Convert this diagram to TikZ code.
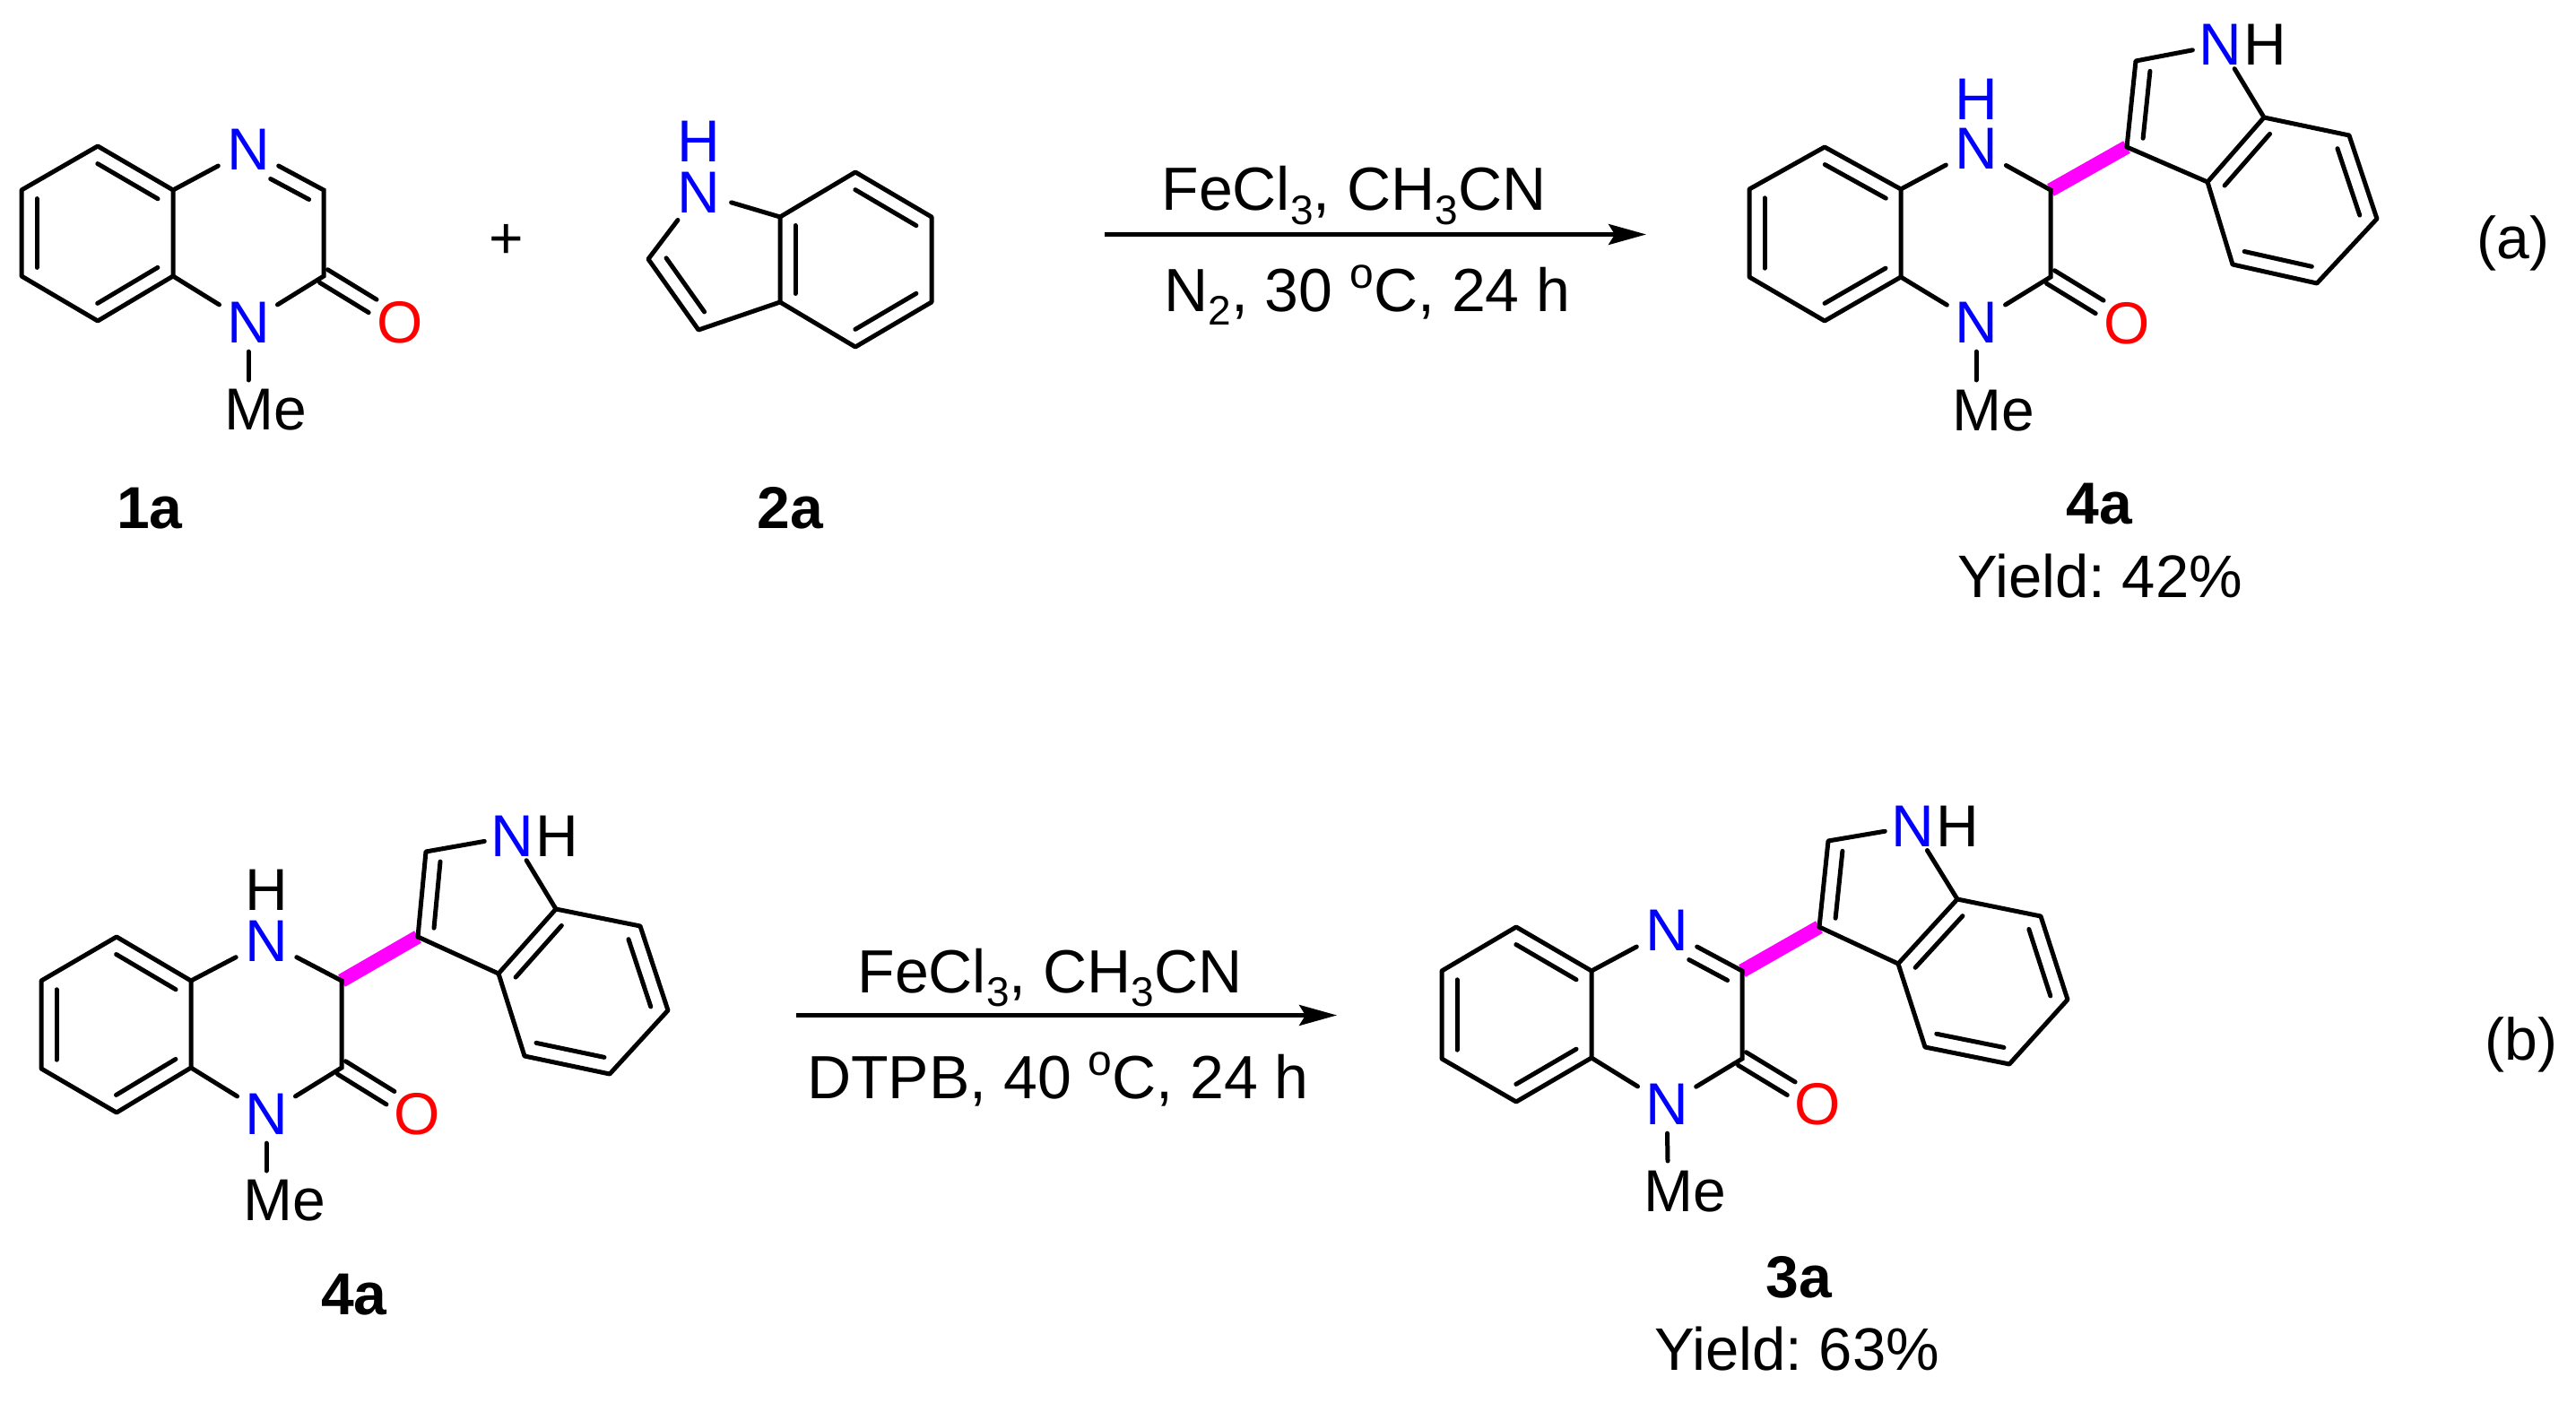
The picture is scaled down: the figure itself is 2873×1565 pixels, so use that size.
\documentclass[tikz,border=0pt]{standalone}
\usepackage{fontspec}
\setmainfont{Liberation Sans}
\usetikzlibrary{calc,arrows.meta}
\AtBeginDocument{\frenchspacing}
\definecolor{nblue}{RGB}{0,0,255}
\definecolor{ored}{RGB}{255,0,0}
\definecolor{hilite}{RGB}{255,0,255}
\newcommand{\lowidx}[1]{\raisebox{-0.23em}{\fontsize{46}{50}\selectfont #1}}
\newcommand{\upo}{\raisebox{0.37em}{\fontsize{48}{50}\selectfont o}}
% inner stroke of a double bond
\newcommand{\dbl}[5]{\draw[bond] ($(#1)!#4!(#2)!#3!90:(#2)$) -- ($(#1)!#5!(#2)!#3!90:(#2)$);}
% carbonyl pair
\newcommand{\carbonyl}[2]{%
  \draw[bond] ($(#1)!0pt!(#2)!8.5pt!90:(#2)$) -- ($(#1)!64pt!(#2)!8.5pt!90:(#2)$);
  \draw[bond] ($(#1)!0pt!(#2)!-8.5pt!90:(#2)$) -- ($(#1)!64pt!(#2)!-8.5pt!90:(#2)$);}
% benzo ring of the quinoxaline core, ring bonds
\newcommand{\benzo}[1]{%
  \draw[bond,line join=round] (#1rt)--(#1top)--(#1lt)--(#1lb)--(#1bot)--(#1rb)--cycle;
  \dbl{#1top}{#1rt}{-17pt}{.1}{.9}
  \dbl{#1rb}{#1bot}{-17pt}{.1}{.9}
  \dbl{#1lb}{#1lt}{-17pt}{.1}{.9}
  \draw[bond] (#1rt)--(#1na);
  \draw[bond] (#1rb)--(#1nb);
  \draw[bond] (#1na)--(#1c3)--(#1c2)--(#1nb);
  \carbonyl{#1c2}{#1o}
  \draw[bond,shorten <=-6pt] (#1nb)--(#1mt);
}
% indole substituent
\newcommand{\indolyl}[1]{%
  \draw[mbond] (#1c3)--(#1ic3);
  \draw[bond,line join=round] (#1ia)--(#1i7)--(#1i6)--(#1i5)--(#1i4)--(#1ib)--cycle;
  \draw[bond,line join=round,shorten >=-7pt] (#1ic3)--(#1ic2)--(#1in);
  \draw[bond,shorten <=-7pt] (#1in)--(#1ia);
  \draw[bond] (#1ic3)--(#1ib);
  \dbl{#1i7}{#1i6}{-17pt}{.1}{.9}
  \dbl{#1i5}{#1i4}{-17pt}{.1}{.9}
  \dbl{#1ib}{#1ia}{-17pt}{.1}{.9}
  \dbl{#1ic2}{#1ic3}{17pt}{.1}{.88}
}
\tikzset{
  x=1pt,y=-1pt,
  bond/.style={line width=5pt,line cap=round,black},
  mbond/.style={line width=15.5pt,hilite},
  atom/.style={circle,inner sep=0pt,minimum size=76pt,font=\fontsize{66}{70}\selectfont},
  nitro/.style={atom,text=nblue},
  oxy/.style={atom,text=ored},
  txt/.style={inner sep=0pt,font=\fontsize{66}{70}\selectfont},
  hblue/.style={txt,text=nblue},
  lab/.style={inner sep=0pt,anchor=base,font=\fontsize{66}{70}\selectfont\bfseries},
  yld/.style={inner sep=0pt,anchor=base,font=\fontsize{67}{70}\selectfont},
  cond/.style={inner sep=0pt,anchor=base,font=\fontsize{68}{70}\selectfont},
  rxn/.style={line width=4.4pt,-{Stealth[length=42pt,width=23pt,inset=7pt]}},
}
\begin{document}
\begin{tikzpicture}
\useasboundingbox (0,0) rectangle (2873,1565);
% ---------- 1a
\coordinate (atop) at (109,163); \coordinate (alt) at (24,212); \coordinate (alb) at (24,308);
\coordinate (abot) at (109,358); \coordinate (arb) at (193,308); \coordinate (art) at (193,212);
\coordinate (ac3) at (361,212); \coordinate (ac2) at (361,308);
\node[nitro] (ana) at (277,167) {N};
\node[nitro] (anb) at (277,360) {N};
\node[oxy] (ao) at (446,360) {O};
\coordinate (amt) at (277,424);
\node[txt] (ame) at (296,457) {Me};
\benzo{a}
\dbl{ana}{ac3}{-17pt}{.39}{.9}
\node[lab] (l1a) at (167,589) {1a};
\node[txt] (plus) at (565,269) {+};
% ---------- 2a
\node[nitro] (bn) at (779,215) {N};
\node[hblue] (bh) at (779,158) {H};
\coordinate (b7a) at (870,242); \coordinate (b3a) at (870,337); \coordinate (b7) at (954,192);
\coordinate (b6) at (1039,242); \coordinate (b5) at (1039,337); \coordinate (b4) at (954,387);
\coordinate (b3) at (779,368); \coordinate (b2) at (723,289);
\draw[bond,line join=round] (b7a)--(b7)--(b6)--(b5)--(b4)--(b3a)--cycle;
\draw[bond,line join=round] (bn)--(b2)--(b3)--(b3a);
\draw[bond] (bn)--(b7a);
\dbl{b7}{b6}{-17pt}{.1}{.9}
\dbl{b5}{b4}{-17pt}{.1}{.9}
\dbl{b3a}{b7a}{-17pt}{.1}{.9}
\dbl{b2}{b3}{17pt}{.11}{.87}
\node[lab] (l2a) at (881,589) {2a};
% ---------- arrow a
\coordinate (raS) at (1232,261.5); \coordinate (raE) at (1836,261.5);
\draw[rxn] (raS)--(raE);
\node[cond] (ra1) at (1510,235) {FeCl\lowidx{3}, CH\lowidx{3}CN};
\node[cond] (ra2) at (1525,347) {N\lowidx{2}, 30 \upo C, 24 h};
% ---------- 4a top
\coordinate (ctop) at (2035,164); \coordinate (clt) at (1951,211); \coordinate (clb) at (1951,309);
\coordinate (cbot) at (2035,358); \coordinate (crb) at (2120,309); \coordinate (crt) at (2120,211);
\coordinate (cc3) at (2287,212); \coordinate (cc2) at (2287,309);
\node[nitro] (cna) at (2204,166) {N};
\node[hblue] (chh) at (2204,111) {H};
\node[nitro] (cnb) at (2204,360) {N};
\node[oxy] (co) at (2372,361) {O};
\coordinate (cmt) at (2204,424);
\node[txt] (cme) at (2223,458) {Me};
\coordinate (cic3) at (2372,164); \coordinate (cic2) at (2382,68);
\node[nitro] (cin) at (2476,50) {N};
\node[txt] (cih) at (2526,50) {H};
\coordinate (cia) at (2525,131); \coordinate (cib) at (2462,203); \coordinate (ci7) at (2620,151);
\coordinate (ci6) at (2651,244); \coordinate (ci5) at (2584,316); \coordinate (ci4) at (2490,295);
\indolyl{c}
\benzo{c}
\node[lab] (l4a) at (2341,584) {4a};
\node[yld] (y4a) at (2342,666) {Yield: 42\%};
\node[txt] (ta) at (2803,271) {(a)};
% ---------- 4a bottom
\coordinate (dtop) at (130,1045); \coordinate (dlt) at (46,1094); \coordinate (dlb) at (46,1192);
\coordinate (dbot) at (130,1241); \coordinate (drb) at (213,1191); \coordinate (drt) at (213,1094);
\coordinate (dc3) at (381,1094); \coordinate (dc2) at (381,1191);
\node[nitro] (dna) at (297,1050) {N};
\node[txt] (dhh) at (297,993) {H};
\node[nitro] (dnb) at (297,1243) {N};
\node[oxy] (do) at (465,1243) {O};
\coordinate (dmt) at (297,1306);
\node[txt] (dme) at (317,1339) {Me};
\coordinate (dic3) at (466,1045); \coordinate (dic2) at (475,950);
\node[nitro] (din) at (571,933) {N};
\node[txt] (dih) at (621,933) {H};
\coordinate (dia) at (620,1014); \coordinate (dib) at (556,1086); \coordinate (di7) at (714,1033);
\coordinate (di6) at (745,1127); \coordinate (di5) at (680,1198); \coordinate (di4) at (585,1178);
\indolyl{d}
\benzo{d}
\node[lab] (l4b) at (395,1466) {4a};
% ---------- arrow b
\coordinate (rbS) at (888,1132.5); \coordinate (rbE) at (1491,1132.5);
\draw[rxn] (rbS)--(rbE);
\node[cond] (rb1) at (1171,1107) {FeCl\lowidx{3}, CH\lowidx{3}CN};
\node[cond] (rb2) at (1180,1225) {DTPB, 40 \upo C, 24 h};
\node[txt] (tb) at (2812,1165) {(b)};
% ---------- 3a
\coordinate (etop) at (1691,1034); \coordinate (elt) at (1608,1083); \coordinate (elb) at (1608,1181);
\coordinate (ebot) at (1691,1229); \coordinate (erb) at (1775,1180); \coordinate (ert) at (1775,1083);
\coordinate (ec3) at (1943,1083); \coordinate (ec2) at (1943,1181);
\node[nitro] (ena) at (1859,1038) {N};
\node[nitro] (enb) at (1859,1232) {N};
\node[oxy] (eo) at (2027,1232) {O};
\coordinate (emt) at (1860,1295);
\node[txt] (eme) at (1879,1329) {Me};
\coordinate (eic3) at (2029,1034); \coordinate (eic2) at (2039,938);
\node[nitro] (ein) at (2133,922) {N};
\node[txt] (eih) at (2183,922) {H};
\coordinate (eia) at (2183,1003); \coordinate (eib) at (2117,1075); \coordinate (ei7) at (2276,1022);
\coordinate (ei6) at (2306,1115); \coordinate (ei5) at (2241,1187); \coordinate (ei4) at (2147,1168);
\indolyl{e}
\benzo{e}
\dbl{ena}{ec3}{-17pt}{.39}{.9}
\node[lab] (l3a) at (2006,1447) {3a};
\node[yld] (y3a) at (2004,1528) {Yield: 63\%};
\end{tikzpicture}
\end{document}
